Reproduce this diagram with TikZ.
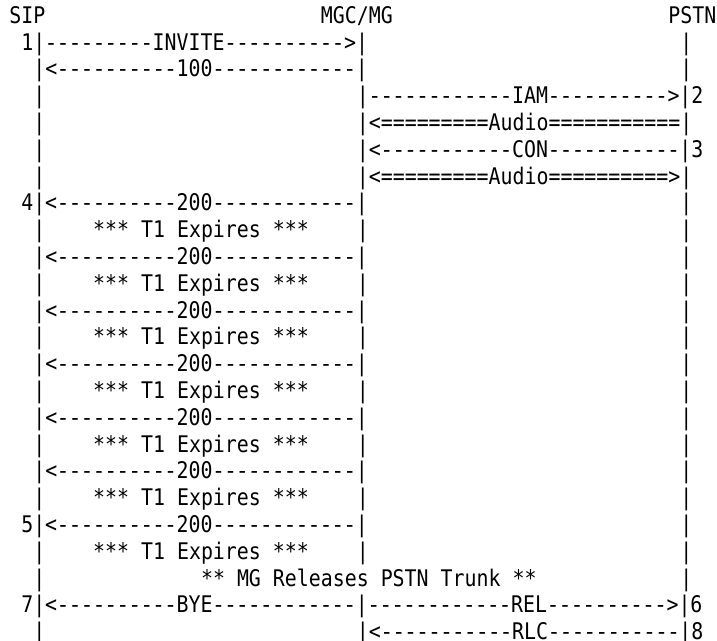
\documentclass[tikz,border=0pt]{standalone}
\usepackage{fontspec}
\setmonofont[FakeStretch=0.869]{DejaVu Sans Mono}
\newfontfamily\dashfont[FakeStretch=0.869,Ligatures=TeXOff]{Liberation Mono}
\newcommand\dsh[1]{{\dashfont #1}}
\usepackage{tikz}

\begin{document}
\begin{tikzpicture}[
  x=11.985pt, y=-26.8pt,
  txt/.style={anchor=base west,inner sep=0pt,outer sep=0pt,font=\fontsize{22.9pt}{26.8pt}\selectfont\ttfamily}
]
\useasboundingbox (-9.3pt,23.3pt) rectangle (707.7pt,-616.7pt);

% Headers (row 0)
\node[txt] (hsip)  at (0,0)  {SIP};
\node[txt] (hmgc)  at (26,0) {MGC/MG};
\node[txt] (hpstn) at (55,0) {PSTN};

% INVITE / 100
\node[txt] (invite) at (1,1)  {1|\dsh{---------}INVITE\dsh{----------}>|};
\node[txt] (p1)     at (56,1) {|};
\node[txt] (trying) at (2,2)  {|<\dsh{----------}100\dsh{------------}|};
\node[txt] (p2)     at (56,2) {|};

% PSTN side: IAM, Audio, CON, Audio
\node[txt] (s3)     at (2,3)  {|};
\node[txt] (iam)    at (29,3) {|\dsh{------------}IAM\dsh{----------}>|2};
\node[txt] (s4)     at (2,4)  {|};
\node[txt] (audioa) at (29,4) {|<=========Audio===========|};
\node[txt] (s5)     at (2,5)  {|};
\node[txt] (con)    at (29,5) {|<\dsh{-----------}CON\dsh{-----------}|3};
\node[txt] (s6)     at (2,6)  {|};
\node[txt] (audiob) at (29,6) {|<=========Audio==========>|};

% 200 retransmissions, T1 expiring
\node[txt] (oka)  at (1,7)   {4|<\dsh{----------}200\dsh{------------}|};
\node[txt] (p7)   at (56,7)  {|};
\node[txt] (s8)   at (2,8)   {|};
\node[txt] (t1a)  at (7,8)   {*** T1 Expires ***};
\node[txt] (m8)   at (29,8)  {|};
\node[txt] (p8)   at (56,8)  {|};

\node[txt] (okb)  at (2,9)   {|<\dsh{----------}200\dsh{------------}|};
\node[txt] (p9)   at (56,9)  {|};
\node[txt] (s10)  at (2,10)  {|};
\node[txt] (t1b)  at (7,10)  {*** T1 Expires ***};
\node[txt] (m10)  at (29,10) {|};
\node[txt] (p10)  at (56,10) {|};

\node[txt] (okc)  at (2,11)  {|<\dsh{----------}200\dsh{------------}|};
\node[txt] (p11)  at (56,11) {|};
\node[txt] (s12)  at (2,12)  {|};
\node[txt] (t1c)  at (7,12)  {*** T1 Expires ***};
\node[txt] (m12)  at (29,12) {|};
\node[txt] (p12)  at (56,12) {|};

\node[txt] (okd)  at (2,13)  {|<\dsh{----------}200\dsh{------------}|};
\node[txt] (p13)  at (56,13) {|};
\node[txt] (s14)  at (2,14)  {|};
\node[txt] (t1d)  at (7,14)  {*** T1 Expires ***};
\node[txt] (m14)  at (29,14) {|};
\node[txt] (p14)  at (56,14) {|};

\node[txt] (oke)  at (2,15)  {|<\dsh{----------}200\dsh{------------}|};
\node[txt] (p15)  at (56,15) {|};
\node[txt] (s16)  at (2,16)  {|};
\node[txt] (t1e)  at (7,16)  {*** T1 Expires ***};
\node[txt] (m16)  at (29,16) {|};
\node[txt] (p16)  at (56,16) {|};

\node[txt] (okf)  at (2,17)  {|<\dsh{----------}200\dsh{------------}|};
\node[txt] (p17)  at (56,17) {|};
\node[txt] (s18)  at (2,18)  {|};
\node[txt] (t1f)  at (7,18)  {*** T1 Expires ***};
\node[txt] (m18)  at (29,18) {|};
\node[txt] (p18)  at (56,18) {|};

\node[txt] (okg)  at (1,19)  {5|<\dsh{----------}200\dsh{------------}|};
\node[txt] (p19)  at (56,19) {|};
\node[txt] (s20)  at (2,20)  {|};
\node[txt] (t1g)  at (7,20)  {*** T1 Expires ***};
\node[txt] (m20)  at (29,20) {|};
\node[txt] (p20)  at (56,20) {|};

% Release
\node[txt] (s21)    at (2,21)  {|};
\node[txt] (trunk)  at (16,21) {** MG Releases PSTN Trunk **};
\node[txt] (p21)    at (56,21) {|};
\node[txt] (byerel) at (1,22)  {7|<\dsh{----------}BYE\dsh{------------}|\dsh{------------}REL\dsh{----------}>|6};
\node[txt] (s23)    at (2,23)  {|};
\node[txt] (rlc)    at (29,23) {|<\dsh{-----------}RLC\dsh{-----------}|8};
\end{tikzpicture}
\end{document}
